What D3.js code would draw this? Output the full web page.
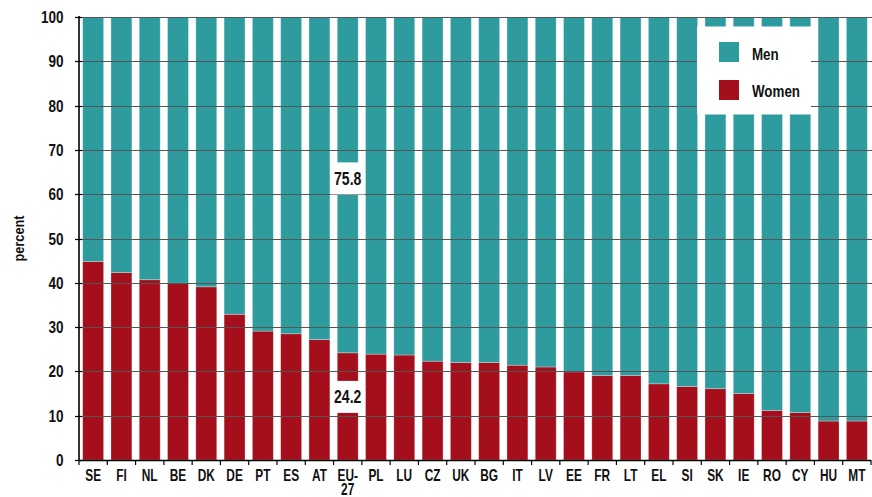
<!DOCTYPE html>
<html>
<head>
<meta charset="utf-8">
<script src="https://cdn.jsdelivr.net/npm/d3@7/dist/d3.min.js"></script>
<style>
  html, body { margin: 0; padding: 0; background: #fff; }
  svg { display: block; }
  text { font-family: "Liberation Sans", Arial, sans-serif; font-weight: bold; fill: #111; }
</style>
</head>
<body>
<svg id="chart" width="872" height="497"></svg>
<script>
const categories = ["SE","FI","NL","BE","DK","DE","PT","ES","AT","EU-27","PL","LU","CZ","UK","BG","IT","LV","EE","FR","LT","EL","SI","SK","IE","RO","CY","HU","MT"];
const women = [44.8,42.3,40.7,39.9,39.1,32.9,29.1,28.5,27.2,24.2,23.9,23.7,22.3,22.0,22.0,21.4,21.0,19.9,19.1,19.1,17.2,16.6,16.1,15.0,11.2,10.7,8.8,8.8];
const men = women.map(w => +(100 - w).toFixed(1));
const yTicks = [0,10,20,30,40,50,60,70,80,90,100];
const seriesNames = ["Men","Women"];
const colors = {Men: "#2E9C9E", Women: "#A50F1C"};
const highlight = "EU-27";
const yTitle = "percent";

(function() {
const svg = d3.select("#chart");
const mLeft = 79, mRight = 871, mTop = 17, mBottom = 460;
const SX = 0.8;

function txt(parent, x, y, str, size, anchor, sx, rot) {
  const t = parent.append("text")
    .attr("transform", `translate(${x},${y})${rot ? ` rotate(${rot})` : ""} scale(${sx || SX},1)`)
    .attr("text-anchor", anchor || "start")
    .style("font-size", size + "px");
  if (str !== null) t.text(str);
  return t;
}

const x = d3.scaleBand().domain(categories).range([mLeft, mRight]).paddingInner(0.26).paddingOuter(0.13);
const y = d3.scaleLinear().domain([0, 100]).range([mBottom, mTop]);

const data = categories.map((c, i) => ({cat: c, Women: women[i], Men: men[i]}));
const stack = d3.stack().keys(["Women","Men"])(data);

// bars
const g = svg.append("g");
stack.forEach(layer => {
  g.selectAll(null).data(layer).enter().append("rect")
    .attr("x", d => x(d.data.cat))
    .attr("width", x.bandwidth())
    .attr("y", d => y(d[1]))
    .attr("height", d => y(d[0]) - y(d[1]))
    .attr("fill", colors[layer.key])
    .attr("stroke", "rgba(255,255,255,0.35)")
    .attr("stroke-width", 0.8);
});

// gridlines (over bars)
svg.append("g").selectAll("line").data(yTicks.filter(t => t > 0)).enter().append("line")
  .attr("x1", mLeft).attr("x2", 872)
  .attr("y1", d => Math.round(y(d)) + 0.5).attr("y2", d => Math.round(y(d)) + 0.5)
  .attr("stroke", "#555").attr("stroke-width", 1.2);

// EU-27 labels
const hi = data.find(d => d.cat === highlight);
const labels = [
  {v: hi.Men, mid: hi.Women + hi.Men / 2, off: -6.5},
  {v: hi.Women, mid: hi.Women / 2, off: -9.5}
];
const lg = svg.append("g");
labels.forEach(l => {
  const cx = x(highlight) + x.bandwidth() / 2;
  const cy = y(l.mid) + l.off;
  lg.append("rect").attr("x", cx - 17).attr("y", cy - 16).attr("width", 34).attr("height", 32).attr("fill", "#fff");
  txt(lg, cx, cy + 6.5, l.v.toFixed(1), 18, "middle", 0.78);
});

// y axis
const ya = svg.append("g");
ya.append("line").attr("x1", mLeft).attr("x2", mLeft).attr("y1", mTop - 1).attr("y2", mBottom + 1).attr("stroke", "#000").attr("stroke-width", 1.6);
ya.selectAll("line.t").data(yTicks).enter().append("line").attr("class", "t")
  .attr("x1", mLeft - 4).attr("x2", mLeft + 3)
  .attr("y1", d => Math.round(y(d)) + 0.5).attr("y2", d => Math.round(y(d)) + 0.5)
  .attr("stroke", "#000").attr("stroke-width", 1.2);
yTicks.forEach(d => txt(ya, mLeft - 15.5, y(d) + 6, String(d), 16.3, "end", 0.83));

txt(svg, 24, y(50), yTitle, 15, "middle", 0.85, -90);

// x axis
const xa = svg.append("g");
xa.append("line").attr("x1", mLeft).attr("x2", mRight).attr("y1", mBottom + 0.5).attr("y2", mBottom + 0.5).attr("stroke", "#000").attr("stroke-width", 1.6);
const gap = x.step() - x.bandwidth();
const bounds = categories.map(c => x(c) - gap / 2).concat([x(categories[categories.length - 1]) + x.bandwidth() + gap / 2]);
xa.selectAll("line.t").data(bounds).enter().append("line").attr("class", "t")
  .attr("x1", d => d).attr("x2", d => d).attr("y1", mBottom).attr("y2", mBottom + 5)
  .attr("stroke", "#000").attr("stroke-width", 1.2);
categories.forEach(d => {
  const cx = x(d) + x.bandwidth() / 2;
  if (d.indexOf("-") > 0) {
    const parts = d.split("-");
    const t = txt(xa, cx, mBottom + 20.5, null, 16.5, "middle", 0.72);
    t.append("tspan").attr("x", 0).text(parts[0] + "-");
    t.append("tspan").attr("x", 0).attr("dy", 14.5).text(parts[1]);
  } else {
    txt(xa, cx, mBottom + 20.5, d, 16.5, "middle", 0.72);
  }
});

// legend
const leg = svg.append("g");
leg.append("rect").attr("x", 697).attr("y", 26.5).attr("width", 114).attr("height", 88).attr("fill", "#fff");
seriesNames.forEach((s, i) => {
  leg.append("rect").attr("x", 719).attr("y", 42 + i * 38).attr("width", 20).attr("height", 20).attr("fill", colors[s]);
  txt(leg, 752, 60 + i * 36.5, s, 16.3, "start", 0.82);
});
})();
</script>
</body>
</html>
